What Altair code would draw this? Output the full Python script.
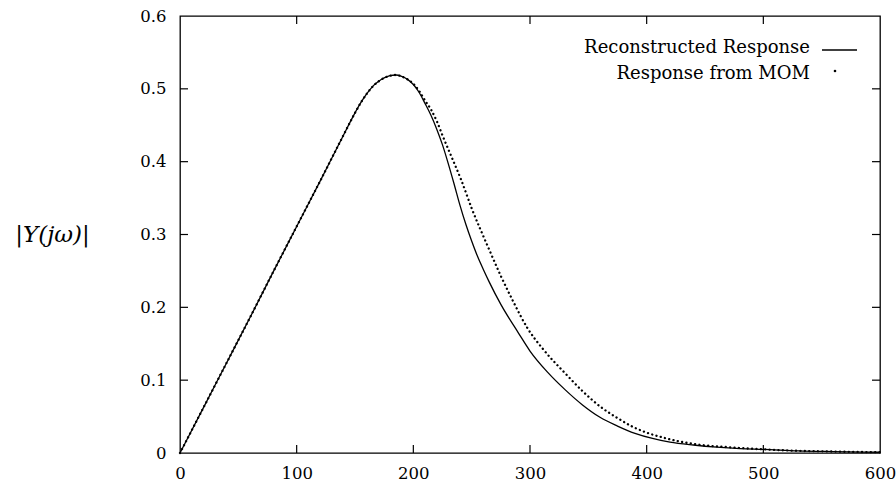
import altair as alt
import pandas as pd

# Reconstructed response (solid line)
rec_w = [0, 20, 40, 60, 80, 100, 120, 140, 150, 155, 160, 165, 170, 175, 180, 185,
         190, 195, 200, 205, 210, 215, 220, 225, 230, 235, 240, 245, 250, 255, 260,
         265, 275, 290, 300, 315, 330, 345, 360, 375, 390, 405, 420, 440, 460, 480,
         500, 530, 560, 600]
rec_y = [0.0, 0.062, 0.124, 0.186, 0.249, 0.311, 0.373, 0.436, 0.467, 0.481, 0.493,
         0.503, 0.510, 0.515, 0.518, 0.519, 0.517, 0.513, 0.506, 0.495, 0.480, 0.464,
         0.445, 0.423, 0.397, 0.369, 0.340, 0.314, 0.291, 0.270, 0.252, 0.235, 0.204,
         0.165, 0.140, 0.111, 0.087, 0.066, 0.049, 0.037, 0.027, 0.020, 0.015, 0.011,
         0.008, 0.006, 0.005, 0.003, 0.002, 0.001]

# Response from MOM (dotted)
mom_w = [0, 20, 40, 60, 80, 100, 120, 140, 150, 155, 160, 165, 170, 175, 180, 185,
         190, 195, 200, 205, 210, 215, 220, 225, 235, 241, 250, 264, 275, 285, 298,
         311, 331, 345, 360, 375, 388, 400, 417, 442, 470, 500, 530, 560, 600]
mom_y = [0.0, 0.062, 0.124, 0.186, 0.249, 0.311, 0.373, 0.436, 0.467, 0.481, 0.493,
         0.503, 0.510, 0.515, 0.518, 0.519, 0.517, 0.513, 0.507, 0.497, 0.484, 0.472,
         0.456, 0.436, 0.398, 0.375, 0.336, 0.283, 0.243, 0.210, 0.171, 0.143, 0.108,
         0.085, 0.064, 0.048, 0.036, 0.028, 0.020, 0.012, 0.008, 0.005, 0.003, 0.002,
         0.001]

x_ticks = [100, 200, 300, 400, 500]
y_ticks = [0.1, 0.2, 0.3, 0.4, 0.5]
x_labels = [0, 100, 200, 300, 400, 500, 600]
y_labels = [0, 0.1, 0.2, 0.3, 0.4, 0.5, 0.6]
legend_labels = ["Reconstructed Response", "Response from MOM"]

W, H = 700, 437
FONT = "DejaVu Serif"

df_rec = pd.DataFrame({"w": rec_w, "mag": rec_y})
df_mom = pd.DataFrame({"w": mom_w, "mag": mom_y})
df_xt = pd.DataFrame({"w": x_ticks})
df_yt = pd.DataFrame({"mag": y_ticks})

xs = alt.Scale(domain=[0, 600], nice=False, zero=False)
ys = alt.Scale(domain=[0, 0.6], nice=False)

rec = alt.Chart(df_rec).mark_line(color="black", strokeWidth=1.3, interpolate="monotone").encode(
    x=alt.X("w:Q", scale=xs, title=None,
            axis=alt.Axis(values=x_labels, tickSize=0, domain=False, grid=False,
                          labelFont=FONT, labelFontSize=16.5, labelColor="black",
                          labelPadding=12, labelFlush=False)),
    y=alt.Y("mag:Q", scale=ys, title="|Y(jω)|",
            axis=alt.Axis(values=y_labels, tickSize=0, domain=False, grid=False,
                          labelFont=FONT, labelFontSize=16.5, labelColor="black",
                          labelPadding=14, labelFlush=False,
                          labelExpr="datum.value == 0 ? '0' : format(datum.value, '.1f')",
                          titleAngle=0, titleX=-128, titleY=218, titleAlign="center",
                          titleBaseline="middle", titleFont=FONT, titleFontSize=23,
                          titleFontStyle="italic", titleFontWeight="normal",
                          titleColor="black")),
)

mom = alt.Chart(df_mom).mark_line(color="black", strokeWidth=2.3, interpolate="monotone",
                                  strokeDash=[0.1, 4.3], strokeCap="round").encode(
    x=alt.X("w:Q", scale=xs),
    y=alt.Y("mag:Q", scale=ys),
)

tb = alt.Chart(df_xt).mark_rule(color="black", strokeWidth=1.2).encode(
    x=alt.X("w:Q", scale=xs), y=alt.value(H), y2=alt.value(H - 8))
tt = alt.Chart(df_xt).mark_rule(color="black", strokeWidth=1.2).encode(
    x=alt.X("w:Q", scale=xs), y=alt.value(0), y2=alt.value(8))
tl = alt.Chart(df_yt).mark_rule(color="black", strokeWidth=1.2).encode(
    y=alt.Y("mag:Q", scale=ys), x=alt.value(0), x2=alt.value(8))
tr = alt.Chart(df_yt).mark_rule(color="black", strokeWidth=1.2).encode(
    y=alt.Y("mag:Q", scale=ys), x=alt.value(W), x2=alt.value(W - 8))

leg1 = alt.Chart(pd.DataFrame({"label": [legend_labels[0]]})).mark_text(
    align="right", baseline="middle", font=FONT, fontSize=18, color="black").encode(
    text="label:N", x=alt.value(630), y=alt.value(32))
leg2 = alt.Chart(pd.DataFrame({"label": [legend_labels[1]]})).mark_text(
    align="right", baseline="middle", font=FONT, fontSize=18, color="black").encode(
    text="label:N", x=alt.value(630), y=alt.value(58))
leg_line = alt.Chart(pd.DataFrame({"label": [legend_labels[0]]})).mark_rule(
    color="black", strokeWidth=1.3).encode(
    x=alt.value(642), x2=alt.value(677), y=alt.value(34))
leg_dot = alt.Chart(pd.DataFrame({"label": [legend_labels[1]]})).mark_point(
    filled=True, color="black", size=7, opacity=1).encode(
    x=alt.value(655), y=alt.value(55))

chart = alt.layer(rec, mom, tb, tt, tl, tr, leg1, leg2, leg_line, leg_dot).properties(
    width=W, height=H,
    autosize=alt.AutoSizeParams(type="none"),
    padding={"left": 180, "top": 16, "right": 16, "bottom": 35},
    background="white",
).configure_view(stroke="black", strokeWidth=1.3)

chart.save("out.html", embed_options={"renderer": "svg", "actions": False})
